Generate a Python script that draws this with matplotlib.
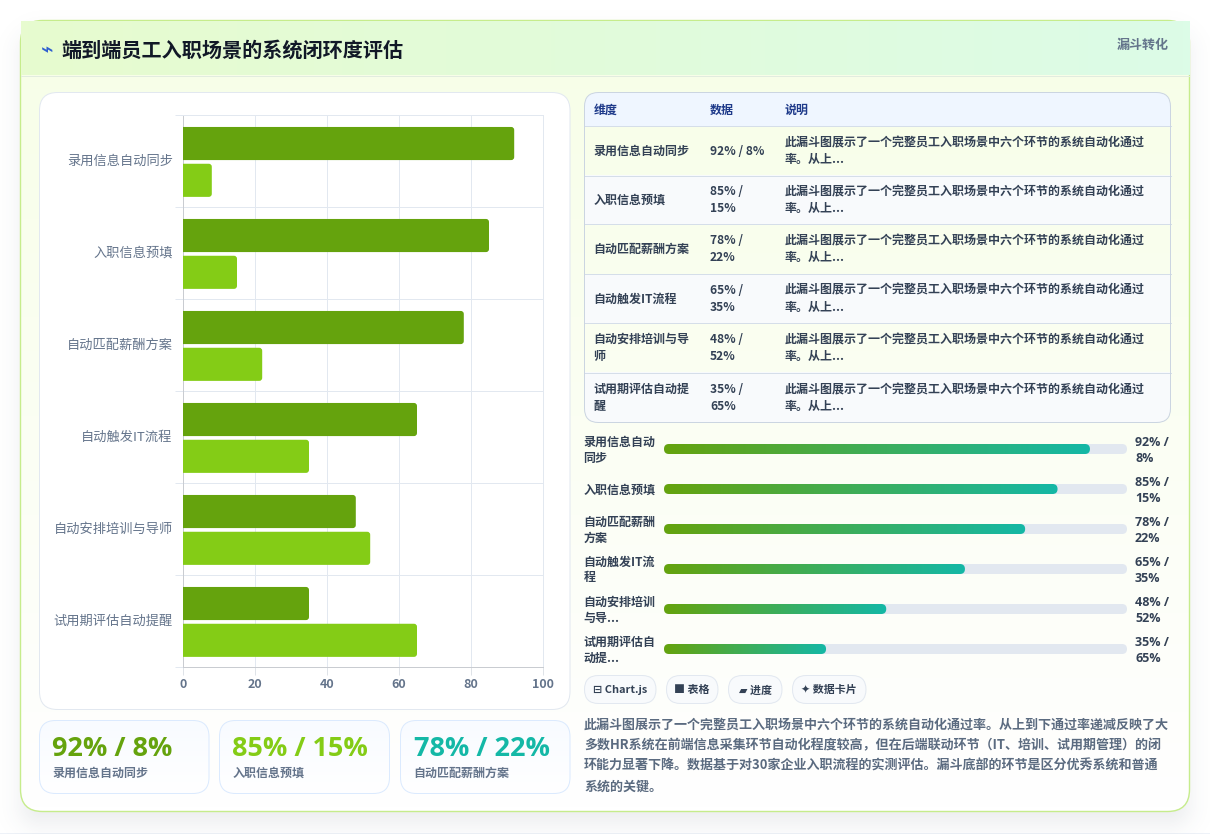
import numpy as np
import matplotlib
matplotlib.use("Agg")
import matplotlib.pyplot as plt
from matplotlib.patches import FancyBboxPatch, PathPatch, Rectangle
from matplotlib.path import Path
from matplotlib.colors import LinearSegmentedColormap, to_rgb
from matplotlib.transforms import ScaledTranslation

CJK = ['Noto Sans CJK SC', 'DejaVu Sans']
LATIN = ['Open Sans', 'Noto Sans CJK SC', 'DejaVu Sans']
plt.rcParams['font.family'] = CJK

W, H = 1210, 834
PX = 0.72

# ---- data ----
stages = ["录用信息自动同步", "入职信息预填", "自动匹配薪酬方案",
          "自动触发IT流程", "自动安排培训与导师", "试用期评估自动提醒"]
pass_rate = [92, 85, 78, 65, 48, 35]
fail_rate = [8, 15, 22, 35, 52, 65]
x_ticks = [0, 20, 40, 60, 80, 100]

table_head = ["维度", "数据", "说明"]
table_stage = [["录用信息自动同步"], ["入职信息预填"], ["自动匹配薪酬方案"],
               ["自动触发IT流程"], ["自动安排培训与导", "师"], ["试用期评估自动提", "醒"]]
table_note = ["此漏斗图展示了一个完整员工入职场景中六个环节的系统自动化通过", "率。从上..."]
progress_stage = [["录用信息自动", "同步"], ["入职信息预填"], ["自动匹配薪酬", "方案"],
                  ["自动触发IT流", "程"], ["自动安排培训", "与导..."], ["试用期评估自", "动提..."]]
chips = ["⊟ Chart.js", "■ 表格", "▰ 进度", "✦ 数据卡片"]
summary = ["此漏斗图展示了一个完整员工入职场景中六个环节的系统自动化通过率。从上到下通过率递减反映了大",
           "多数HR系统在前端信息采集环节自动化程度较高，但在后端联动环节（IT、培训、试用期管理）的闭",
           "环能力显著下降。数据基于对30家企业入职流程的实测评估。漏斗底部的环节是区分优秀系统和普通",
           "系统的关键。"]

GREEN_D, GREEN_L, TEAL = "#65a30d", "#84cc16", "#14b8a6"
SLATE_M, SLATE_L = "#334155", "#64748b"

fig = plt.figure(figsize=(W / 100, H / 100), dpi=100, facecolor="white")
bg = fig.add_axes([0, 0, 1, 1], zorder=0)
bg.set_xlim(0, W)
bg.set_ylim(H, 0)
bg.axis("off")


def rbox(x0, y0, x1, y1, r, fc="none", ec="none", lw=1.0, z=2):
    p = FancyBboxPatch((x0, y0), x1 - x0, y1 - y0,
                       boxstyle=f"round,pad=0,rounding_size={r}",
                       fc=fc, ec=ec, lw=lw * PX, zorder=z)
    bg.add_patch(p)
    return p


def gradient(x0, y0, x1, y1, c0, c1, horizontal=True, clip=None, z=2, n=256):
    cmap = LinearSegmentedColormap.from_list("g", [c0, c1])
    u = np.linspace(0, 1, n)
    arr = u[None, :] if horizontal else u[:, None]
    im = bg.imshow(arr, extent=(x0, x1, y1, y0), origin="upper", cmap=cmap,
                   vmin=0, vmax=1, aspect="auto", zorder=z, interpolation="bilinear")
    if clip is not None:
        im.set_clip_path(clip)
    bg.set_xlim(0, W)
    bg.set_ylim(H, 0)
    return im


def label(x, y, s, size, color, weight="normal", ha="left", va="center", z=6, family=None):
    t = bg.text(x, y, s, fontsize=size * PX, color=color, fontweight=weight,
                ha=ha, va=va, zorder=z)
    if family:
        t.set_fontfamily(family)
    return t


# page strip and soft drop shadow under the card
bg.add_patch(Rectangle((0, 832.5), W, 2, fc="#eef2f8", ec="none", zorder=0.5))
xx, yy = np.meshgrid(np.arange(W) + .5, np.arange(H) + .5)
cx, cy, hw, hh, rad = 605, 430, 585, 396, 22
qx = np.abs(xx - cx) - hw + rad
qy = np.abs(yy - cy) - hh + rad
dist = np.hypot(np.maximum(qx, 0), np.maximum(qy, 0)) + np.minimum(np.maximum(qx, qy), 0) - rad
alpha = 0.10 / (1 + np.exp((dist + 2) / 8.0))
shadow = np.zeros((H, W, 4))
shadow[..., :3] = to_rgb("#334155")
shadow[..., 3] = alpha
bg.imshow(shadow, extent=(0, W, H, 0), aspect="auto", zorder=1)
bg.set_xlim(0, W)
bg.set_ylim(H, 0)

# main card
card = rbox(20.5, 20.5, 1189.5, 811.5, 22, z=2)
gradient(20, 20, 1190, 812, "#f7fee7", "#ffffff", horizontal=False, clip=card, z=2)
rbox(20.5, 20.5, 1189.5, 811.5, 22, ec="#c6ec8c", lw=1.4, z=2.5)

# header band, square corners sit over the card outline
gradient(21, 21.2, 1189.6, 75, "#e7fbcf", "#dcfce7", z=3)
bg.plot([21, 1189], [75.5, 75.5], color="#e2ecdf", lw=PX, zorder=4)
label(40.5, 50, "⌁", 21, "#2f5fd0", "bold")
label(61.2, 49.6, "端到端员工入职场景的系统闭环度评估", 20.1, "#111827", "bold")
label(1169, 44.5, "漏斗转化", 13, SLATE_L, "bold", ha="right")

# chart panel
rbox(39.5, 92.5, 570, 709.5, 18, fc="white", ec="#e2e8f0", lw=1, z=5)

# table
tx0, tx1 = 584.5, 1170.5
rows = [125.5, 175, 223.5, 273.5, 322.5, 372, 422.5]
frame = rbox(tx0, 92.5, tx1, 422.5, 14, z=5)
t_head = Rectangle((tx0, 92), tx1 - tx0, 34, fc="#eff6ff", ec="none", zorder=5)
bg.add_patch(t_head)
t_head.set_clip_path(frame)
for i in range(6):
    if i % 2 == 1:
        band = Rectangle((tx0, rows[i]), tx1 - tx0, rows[i + 1] - rows[i], fc="#f8fafc", ec="none", zorder=5)
        bg.add_patch(band)
        band.set_clip_path(frame)
for y in rows[:-1]:
    bg.plot([tx0, tx1], [y + .5, y + .5], color="#d5dee9", lw=PX, zorder=5.5)
rbox(tx0, 92.5, tx1, 422.5, 14, ec="#cbd5e1", lw=1, z=5.6)

col_x = [593.6, 710, 785]
for xp, s in zip(col_x, table_head):
    label(xp, 110.2, s, 12, "#1e3a8a", "bold")
for i, (st, a, b) in enumerate(zip(table_stage, pass_rate, fail_rate)):
    mid = (rows[i] + rows[i + 1]) / 2 + 0.9
    if len(st) == 1:
        label(col_x[0], mid, st[0], 12, SLATE_M, "bold")
    else:
        label(col_x[0], mid - 8.5, st[0], 12, SLATE_M, "bold")
        label(col_x[0], mid + 8.5, st[1], 12, SLATE_M, "bold")
    if i == 0:
        label(col_x[1], mid, f"{a}% / {b}%", 12, SLATE_M, "bold")
    else:
        label(col_x[1], mid - 8.5, f"{a}% /", 12, SLATE_M, "bold")
        label(col_x[1], mid + 8.5, f"{b}%", 12, SLATE_M, "bold")
    label(col_x[2], mid - 8.5, table_note[0], 12, SLATE_M, "bold")
    label(col_x[2], mid + 8.5, table_note[1], 12, SLATE_M, "bold")

# progress rows
track0, track1 = 664, 1127
for i, (st, a, b) in enumerate(zip(progress_stage, pass_rate, fail_rate)):
    cy_ = 449 + 40 * i
    rbox(track0, cy_ - 5, track1, cy_ + 5, 5, fc="#e2e8f0", z=5)
    end = track0 + (track1 - track0) * a / 100
    pill = rbox(track0, cy_ - 5, end, cy_ + 5, 5, z=5.2)
    gradient(track0, cy_ - 5, end, cy_ + 5, GREEN_D, TEAL, clip=pill, z=5.2)
    if len(st) == 1:
        label(583.6, cy_ + 1, st[0], 12, SLATE_M, "bold")
    else:
        label(583.6, cy_ - 7, st[0], 12, SLATE_M, "bold")
        label(583.6, cy_ + 9, st[1], 12, SLATE_M, "bold")
    label(1135, cy_ - 7, f"{a}% /", 12.5, SLATE_M, "bold", family=LATIN)
    label(1135, cy_ + 9, f"{b}%", 12.5, SLATE_M, "bold", family=LATIN)

# chips
chip_x = [(584.5, 656), (666.5, 718), (728.5, 782), (792.5, 866)]
for (c0, c1), s in zip(chip_x, chips):
    rbox(c0, 675.5, c1, 703.5, 14, fc="#f8fafc", ec="#e2e8f0", lw=1, z=5)
    label((c0 + c1) / 2, 690.3, s, 11, SLATE_M, "bold", ha="center")

# summary text
for i, s in enumerate(summary):
    label(584, 725 + 20.4 * i, s, 13, "#5b6b80", "bold")

# KPI cards
kpi_x = [(39.5, 209), (219.5, 389.5), (400.5, 570)]
kpi_text_x = [52.5, 232.5, 413.5]
kpi_col = [GREEN_D, GREEN_L, TEAL]
for j in range(3):
    c0, c1 = kpi_x[j]
    box = rbox(c0, 720.5, c1, 793.5, 16, z=5)
    gradient(c0, 720.5, c1, 793.5, "#f8fbff", "#ffffff", horizontal=False, clip=box, z=5)
    rbox(c0, 720.5, c1, 793.5, 16, ec="#dbeafe", lw=1, z=5.1)
    label(kpi_text_x[j], 749, f"{pass_rate[j]}% / {fail_rate[j]}%", 27, kpi_col[j], "bold", family=LATIN)
    label(kpi_text_x[j], 773.5, stages[j], 12, SLATE_L, "bold")

# grouped horizontal bars
ax = fig.add_axes([183 / W, 1 - 667 / H, 360 / W, 552 / H], zorder=2)
ax.patch.set_alpha(0)
ax.set_xlim(0, 100)
ax.set_ylim(6, 0)


def round_bar(value, top, height, color):
    rx, ry = 3 * 100 / 360, 3 * 6 / 552
    bot = top + height
    verts = [(0, top), (value - rx, top), (value, top), (value, top + ry),
             (value, bot - ry), (value, bot), (value - rx, bot), (0, bot), (0, top)]
    codes = [Path.MOVETO, Path.LINETO, Path.CURVE3, Path.CURVE3,
             Path.LINETO, Path.CURVE3, Path.CURVE3, Path.LINETO, Path.CLOSEPOLY]
    ax.add_patch(PathPatch(Path(verts, codes), fc=color, ec="none", zorder=3))


for i, (a, b) in enumerate(zip(pass_rate, fail_rate)):
    round_bar(a, i + 0.13, 0.36, GREEN_D)
    round_bar(b, i + 0.53, 0.36, GREEN_L)

ax.set_xticks(x_ticks)
ax.set_yticks(np.arange(7))
ax.set_yticklabels([])
ax.set_yticks(np.arange(6) + 0.5, minor=True)
ax.set_yticklabels(stages, minor=True, fontsize=13.2 * PX, color=SLATE_L)
ax.tick_params(axis="y", which="minor", length=0, pad=7.4)
ax.tick_params(axis="y", which="major", length=8 * PX, width=PX, color="#e2e8f0")
ax.tick_params(axis="x", length=8 * PX, width=PX, color="#dfe3e8", pad=2.5,
               labelsize=12.5 * PX, labelcolor=SLATE_L)
for t in ax.get_xticklabels():
    t.set_fontweight("bold")
lift = ScaledTranslation(0, 1.5 / 100, fig.dpi_scale_trans)
for t in ax.get_yticklabels(minor=True):
    t.set_transform(t.get_transform() + lift)
ax.grid(True, which="major", color="#e2e8f0", lw=PX, zorder=0)
ax.set_axisbelow(True)
for side in ("top", "right"):
    ax.spines[side].set_color("#e2e8f0")
    ax.spines[side].set_linewidth(PX)
for side in ("left", "bottom"):
    ax.spines[side].set_color("#c9ccd1")
    ax.spines[side].set_linewidth(PX)

fig.savefig("out.png", dpi=100, facecolor="white")
